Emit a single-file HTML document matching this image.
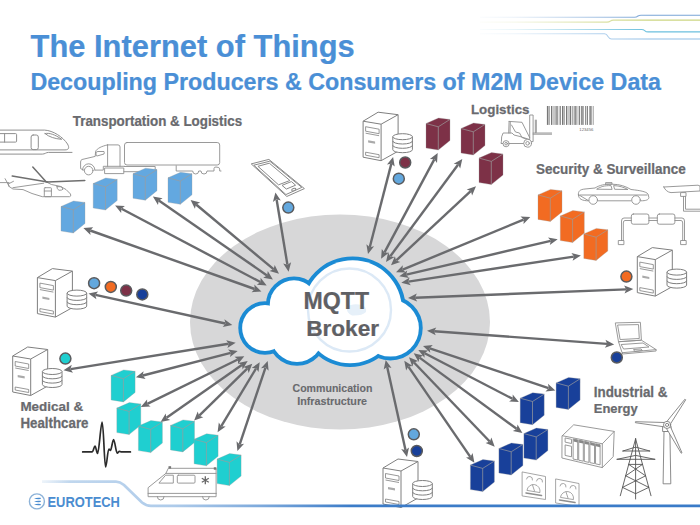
<!DOCTYPE html><html><head><meta charset="utf-8"><style>html,body{margin:0;padding:0;background:#fff;width:700px;height:525px;overflow:hidden}</style></head><body><svg width="700" height="525" viewBox="0 0 700 525" style="display:block">
<defs><linearGradient id="fadeL2" x1="0" x2="1" y1="0" y2="0"><stop offset="0" stop-color="#fff" stop-opacity="1"/><stop offset="0.25" stop-color="#fff" stop-opacity="0.85"/><stop offset="1" stop-color="#fff" stop-opacity="0"/></linearGradient><linearGradient id="fadeL" x1="0" x2="1" y1="0" y2="0"><stop offset="0" stop-color="#fff" stop-opacity="1"/><stop offset="1" stop-color="#fff" stop-opacity="0"/></linearGradient><linearGradient id="botline" gradientUnits="userSpaceOnUse" x1="42" x2="700" y1="0" y2="0"><stop offset="0" stop-color="#c5daef"/><stop offset="0.2" stop-color="#aecbea"/><stop offset="0.33" stop-color="#7eaadc"/><stop offset="0.47" stop-color="#3c7cc8"/><stop offset="1" stop-color="#3a7bc8"/></linearGradient></defs>
<rect width="700" height="525" fill="#fff"/>
<g fill="none" stroke-width="1.1" stroke-linejoin="round"><path d="M480,17.3 H634.5 Q636.5,17.3 638,16 Q639,15.3 641,15.3 H700" stroke="#7aa5d6"/><path d="M480,22.1 H607 Q609,22.1 610.5,21 Q611.5,20.1 613.5,20.1 H700" stroke="#cdd682"/><path d="M480,29.5 H641.5 Q643.5,29.5 645,30.8 Q646,31.9 648,31.9 H700" stroke="#6cc0de"/><path d="M480,33.8 H604.5 Q606.5,33.8 608,36.5 Q609.5,39 611.5,39 H700" stroke="#8fbde6"/></g>
<rect x="470" y="10" width="180" height="32" fill="url(#fadeL2)"/>
<text transform="translate(30.59,56.9) scale(0.9685,1)" font-family="Liberation Sans" font-weight="bold" font-size="31.88" fill="#4a8fd6" stroke="#4a8fd6" stroke-width="0.25">The Internet of Things</text>
<text transform="translate(30.39,90) scale(0.9670,1)" font-family="Liberation Sans" font-weight="bold" font-size="24.06" fill="#4a8fd6" stroke="#4a8fd6" stroke-width="0.25">Decoupling Producers &amp; Consumers of M2M Device Data</text>
<g fill="none" stroke="#8f8f8f" stroke-width="1.0" stroke-linejoin="round" stroke-linecap="round"><path d="M-2,130.1 H44.6 C53,130.5 63,137 67.5,144 C69.5,147.5 69,149.9 65,149.9 H-2"/><path d="M-2,154.1 H42.3 C45,154.1 46,152.4 48.5,152.4 H72"/><rect x="-3" y="133.6" width="19.6" height="8.5" rx="1"/><line x1="4.6" y1="133.6" x2="4.6" y2="142.1"/><rect x="31.1" y="135" width="7.2" height="14.6" rx="2"/><path d="M45.1,133.6 C49,132.5 55,134.5 61.7,139.3 C55,138.8 49,137 45.1,133.6Z"/></g><g fill="none" stroke="#8f8f8f" stroke-width="0.9" stroke-linejoin="round" stroke-linecap="round"><path d="M9,186.4 L12.9,189 L23,189.6 L32,193.5 L42.4,196.7 H69.5 Q71.5,196.5 70.5,194 L66,189.5 L60.4,186.4 L51.4,184.5 L47.6,182.6"/><path d="M12.9,187.7 L43.7,183.2"/><path d="M9,186.4 L7.7,182.8"/><rect x="44.3" y="187.7" width="7.1" height="9" rx="0.8"/><line x1="44.3" y1="191" x2="51.4" y2="191"/><path d="M57,186.6 L61.5,186.8 L63,189.2 Q62,190.4 59,190.3 Q56.5,189 57,186.6Z"/><line x1="-1" y1="182.6" x2="9" y2="182.6"/><line x1="5.1" y1="178.7" x2="9" y2="185.8"/><line x1="8.4" y1="183.9" x2="13.5" y2="181.3"/></g><g fill="none" stroke="#6f6f6f" stroke-width="1.5" stroke-linejoin="round" stroke-linecap="round"><line x1="12.2" y1="176.1" x2="47.6" y2="181.9"/><line x1="32.8" y1="167.1" x2="46.3" y2="181.9"/><line x1="47.6" y1="181.9" x2="84.8" y2="180.6"/></g><g fill="none" stroke="#8f8f8f" stroke-width="0.9" stroke-linejoin="round" stroke-linecap="round"><path d="M107.6,144.9 H118 Q120,144.9 120,147 V166.3"/><line x1="107.6" y1="144.9" x2="107.6" y2="166.3"/><path d="M107.6,144.9 C102,146 97,148.5 95.6,151.3 L95.2,156.4 L82,159.5 Q80.6,160 80.6,162 V168.6 L84,170.3"/><path d="M96,152.5 Q96,151.5 98,151.5 H104 Q104.5,152 104,154 L97,156 Q95.5,156 96,154Z"/><circle cx="88.7" cy="170.6" r="4.3"/><path d="M82.5,170 A6.2,6.2 0 0 1 94.9,170"/><path d="M94.9,170.1 H103.3 V166.3 H124.5"/><rect x="105" y="168" width="18.8" height="5.6"/><rect x="124.5" y="142.5" width="95.2" height="22.5" rx="2.5"/><path d="M124.5,166.5 H155.2 V171.7 H124"/><path d="M176.2,165.7 V171 H192.7 A3,3 0 0 0 198.7,171 H201 A3,3 0 0 0 207,171 H214 V168.5 Q214,167 216,167 Q219.7,167 219.7,169 V171 H221"/></g><g fill="none" stroke="#8a8a8a" stroke-width="1.0" stroke-linejoin="round" stroke-linecap="round"><path d="M251.6,163.8 L268.9,159.4 L304.4,188.6 L287.2,196.3 Z"/><path d="M254.2,165.1 L269.8,161.2 L301.8,187.4 L286.3,194.4 Z"/><path d="M258.3,166.2 L269.3,163.2 L289.9,180.5 L278.9,184.7 Z"/><path d="M282.4,185.2 L291.4,181.6 L295.6,185.2 L286.7,188.9 Z"/><ellipse cx="293.8" cy="189.6" rx="2.2" ry="1.1" transform="rotate(-20 293.8 189.6)"/></g><g fill="none" stroke="#8f8f8f" stroke-width="0.9" stroke-linejoin="round" stroke-linecap="round"><rect x="530.1" y="115" width="3" height="26.6" fill="#fff"/><path d="M535.3,120.1 V132.6 H536.3 V120.1"/><path d="M533.1,133 H551.6 M533.1,134.2 H551.6"/><path d="M509.1,121.4 L522,122.3 L529.7,137.7"/><path d="M509.1,121.4 L508.7,133 M510.3,122 L510,133"/><path d="M511.5,125 L515.5,132 L519.5,133 L522,137.5 L526,139"/><path d="M501.4,141 Q501,136.5 503.1,133 H512 L514,135 L520,136.5 L529.5,139.5 L530.1,141.6 V143.5 H501.4 Z"/><circle cx="506.1" cy="143.7" r="3.1" fill="#fff"/><circle cx="506.1" cy="143.7" r="1.3"/><circle cx="527.6" cy="143.3" r="3.9" fill="#fff"/><circle cx="527.6" cy="143.3" r="1.8"/></g><rect x="546.90" y="106" width="1.6" height="18.9" fill="#777"/><rect x="549.30" y="106" width="0.6" height="18.9" fill="#777"/><rect x="551.00" y="106" width="1.2" height="18.9" fill="#777"/><rect x="552.80" y="106" width="0.6" height="18.9" fill="#777"/><rect x="554.60" y="106" width="0.9" height="18.9" fill="#777"/><rect x="556.30" y="106" width="1.4" height="18.9" fill="#777"/><rect x="558.80" y="106" width="0.6" height="18.9" fill="#777"/><rect x="560.00" y="106" width="0.8" height="18.9" fill="#777"/><rect x="562.00" y="106" width="1.5" height="18.9" fill="#777"/><rect x="564.30" y="106" width="0.6" height="18.9" fill="#777"/><rect x="566.00" y="106" width="1.1" height="18.9" fill="#777"/><rect x="567.70" y="106" width="0.7" height="18.9" fill="#777"/><rect x="569.60" y="106" width="1.6" height="18.9" fill="#777"/><rect x="572.00" y="106" width="0.6" height="18.9" fill="#777"/><rect x="573.70" y="106" width="0.9" height="18.9" fill="#777"/><rect x="575.20" y="106" width="1.3" height="18.9" fill="#777"/><rect x="577.70" y="106" width="0.6" height="18.9" fill="#777"/><rect x="579.10" y="106" width="1.0" height="18.9" fill="#777"/><rect x="581.20" y="106" width="1.5" height="18.9" fill="#777"/><rect x="583.30" y="106" width="0.6" height="18.9" fill="#777"/><rect x="585.10" y="106" width="0.8" height="18.9" fill="#777"/><rect x="586.70" y="106" width="1.2" height="18.9" fill="#777"/><rect x="589.00" y="106" width="0.6" height="18.9" fill="#777"/><rect x="590.20" y="106" width="1.4" height="18.9" fill="#777"/><rect x="592.80" y="106" width="0.7" height="18.9" fill="#777"/><text x="593.3" y="131" font-family="Liberation Sans" font-size="4.2" fill="#666" text-anchor="end">123456</text><g fill="none" stroke="#8f8f8f" stroke-width="0.9" stroke-linejoin="round" stroke-linecap="round"><path d="M578.4,195 C578,191 580,189.5 585,189 L595,188 C600,185 604,184.2 612,184.2 C620,184.2 626,186.5 631,189.5 C640,190.5 646,191.5 648,194 L648.9,197.5 C648.5,200 646,200.8 641,200.8 M631,200.8 H598.2 M588.3,200.8 C582,200.8 578.6,199 578.4,195Z"/><circle cx="593.2" cy="200" r="4.3"/><circle cx="636" cy="200" r="4.3"/><path d="M597,189 C601,186.5 604,185.6 611,185.6 L612,189 Z"/><path d="M614,185.6 C620,185.8 624,187.5 628,189.5 L615,189.3Z"/><line x1="580" y1="195" x2="647" y2="195"/><rect x="606" y="182.6" width="6" height="1.5"/></g><g fill="none" stroke="#8f8f8f" stroke-width="0.9" stroke-linejoin="round" stroke-linecap="round"><path d="M663.8,187 L698,185.2 L700,186 V191 L671,192.6 Q666,192 663.8,187Z"/><rect x="681" y="192.6" width="5" height="3.8"/><path d="M683.5,196.4 V211.2 H701"/><path d="M685.5,196.4 V209.2 H701"/></g><g fill="none" stroke="#8f8f8f" stroke-width="0.9" stroke-linejoin="round" stroke-linecap="round"><rect x="631.3" y="214" width="17.6" height="10.2" rx="2"/><rect x="657.3" y="214" width="17.6" height="10.2" rx="2"/><path d="M648.9,218 H657.3 M648.9,220.5 H657.3"/><path d="M631.3,218 H624 Q621.5,218 621.5,221 V240.5"/><path d="M631.3,220.5 H625 Q623.3,220.5 623.3,223 V240.5"/><rect x="618.7" y="240.5" width="5.2" height="4.1"/><path d="M674.9,218 H682 Q684.5,218 684.5,221 V240.5"/><path d="M674.9,220.5 H681 Q682.7,220.5 682.7,223 V240.5"/><rect x="681" y="240.5" width="5.2" height="4.1"/></g><g fill="none" stroke="#8f8f8f" stroke-width="0.9" stroke-linejoin="round" stroke-linecap="round"><path d="M615.7,322.9 L640.4,322.3 L641.4,340.2 L618.9,341.7 Z"/><path d="M618,325 L638.5,324.6 L639.3,338.5 L620.5,339.5 Z"/><path d="M618.9,341.7 L641.4,340.2 L656.1,349.6 L622.5,352.7 Z"/><path d="M622.5,352.7 L622.5,354 L656.1,351 L656.1,349.6"/><path d="M621.5,344.5 L643,343 L649,347 L624,349Z"/><path d="M634,349.5 L641,349 L642.5,350.5 L635,351.2Z"/></g><g fill="none" stroke="#8f8f8f" stroke-width="0.9" stroke-linejoin="round" stroke-linecap="round"><path d="M562.3,435.7 L573.7,424.8 L614.2,431.4 L613.2,456.7 L602.3,467.6 L562.3,458.1 Z"/><path d="M562.3,435.7 L602.3,443.8 L614.2,431.4"/><line x1="602.3" y1="443.8" x2="602.3" y2="467.6"/><path d="M573.5,439.0 L577.7,439.9 V460.0 L573.5,459.1Z"/><rect x="573.5" y="439.0" width="4.2" height="2.5" fill="#888" stroke="none" transform="skewY(12)" transform-origin="573.5 439.0"/><path d="M579.1,440.2 L583.3,441.1 V461.2 L579.1,460.3Z"/><rect x="579.1" y="440.2" width="4.2" height="2.5" fill="#888" stroke="none" transform="skewY(12)" transform-origin="579.1 440.2"/><path d="M584.7,441.4 L588.9,442.3 V462.4 L584.7,461.5Z"/><rect x="584.7" y="441.4" width="4.2" height="2.5" fill="#888" stroke="none" transform="skewY(12)" transform-origin="584.7 441.4"/><path d="M590.3,442.6 L594.5,443.5 V463.6 L590.3,462.7Z"/><rect x="590.3" y="442.6" width="4.2" height="2.5" fill="#888" stroke="none" transform="skewY(12)" transform-origin="590.3 442.6"/><path d="M595.9,443.8 L600.1,444.7 V464.8 L595.9,463.9Z"/><rect x="595.9" y="443.8" width="4.2" height="2.5" fill="#888" stroke="none" transform="skewY(12)" transform-origin="595.9 443.8"/><path d="M565.5,438 L571.5,439.3 V443.5 L565.5,442.2Z"/><path d="M565.5,445 L571.5,446.3 V456.8 L565.5,455.5Z"/></g><g fill="none" stroke="#555" stroke-width="0.9" stroke-linejoin="round" stroke-linecap="round"><path d="M635.6,438.8 L620.3,495.7 M635.6,438.8 L651,495.7 M635.6,438.8 V499"/><path d="M622.9,451 H649.7 M622.9,451 L635.6,447.1 L649.7,451"/><path d="M617.1,459.3 H654.8 M617.1,459.3 L635.6,455.4 L654.8,459.3"/><path d="M628.7,464.4 H642.5"/><path d="M628.7,464.4 L645.6,475.8 M642.5,464.4 L625.7,475.8"/><path d="M625.7,475.8 L648.8,487.4 M645.6,475.8 L622.5,487.4"/><path d="M622.5,487.4 L635.6,493.7 L648.8,487.4"/></g><g fill="none" stroke="#777" stroke-width="0.85" stroke-linejoin="round" stroke-linecap="round"><path d="M664.4,431.2 L669.9,431.2 L670.8,483.8 L663.5,483.8 Z" fill="#fff"/><path d="M663,426 L671,426 L671,431.5 L663,431.5Z" fill="#fff"/><path d="M670.6,423.7 L685.7,399.8 L684.9,399.2 L667.1,421.2" fill="#fff"/><path d="M664.3,422.5 L635.4,421.7 L635.4,422.7 L663.9,426.8" fill="#fff"/><path d="M666.5,428.6 L681.2,453.2 L682.0,452.8 L670.4,426.6" fill="#fff"/><circle cx="667.1" cy="424.9" r="3.6" fill="#fff"/><circle cx="667.1" cy="424.9" r="1.6"/></g><g fill="none" stroke="#8f8f8f" stroke-width="0.8" stroke-linejoin="round" stroke-linecap="round"><path d="M522.5,472 L545.5,476.5 L545.5,499.5 L522.5,496 Z"/><path d="M526.5,479 a3,3 0 0 1 6,1"/><path d="M536.5,481 a3,3 0 0 1 6,1"/><path d="M527.0,490 a6.5,6.5 0 0 1 13,2.2 Z"/><line x1="532.5" y1="485" x2="534.5" y2="491"/><path d="M526.0,493 L541.5,495.5" stroke-width="1.6"/><path d="M556,479 L579,483.5 L579,506.5 L556,503 Z"/><path d="M560,486 a3,3 0 0 1 6,1"/><path d="M570,488 a3,3 0 0 1 6,1"/><path d="M560.5,497 a6.5,6.5 0 0 1 13,2.2 Z"/><line x1="566" y1="492" x2="568" y2="498"/><path d="M559.5,500 L575,502.5" stroke-width="1.6"/></g><g fill="none" stroke="#8f8f8f" stroke-width="0.9" stroke-linejoin="round" stroke-linecap="round"><path d="M148.1,496.3 V487.7 L165.9,473.4 L168.3,468.3 H216.1 V496.3 Z" fill="#fff"/><line x1="165.9" y1="473.4" x2="216.1" y2="473.4"/><line x1="148.1" y1="493.4" x2="216.3" y2="493.4"/><path d="M166,475.2 H173.3 V483.1 H159.3 Z"/><rect x="177.3" y="475.2" width="17.7" height="7.9" rx="1"/><path d="M157.3,496.6 A3.4,3.4 0 0 0 164.1,496.6"/><path d="M202.5,496.6 A3.4,3.4 0 0 0 209.3,496.6"/></g><rect x="168.5" y="466.2" width="2.6" height="2.4" fill="#777" stroke="none"/><rect x="213.8" y="467.3" width="2.6" height="2.4" fill="#777" stroke="none"/><g stroke="#666" stroke-width="1.3"><line x1="205.3" y1="476.3" x2="205.3" y2="484.3"/><line x1="201.8" y1="478.3" x2="208.8" y2="482.3"/><line x1="201.8" y1="482.3" x2="208.8" y2="478.3"/></g><g fill="none" stroke="#2b2b2b" stroke-width="1.7" stroke-linejoin="round" stroke-linecap="round"><path d="M82.7,451.9 H92 C93.5,451.9 94,446 95,446 C96,446 96.5,453.5 97.6,453.5 C99,453.5 100.8,422 102.1,422 C103.6,422 104.3,467 105.6,467 C106.8,467 107.6,449 108.9,449 C109.6,449 109.8,450.5 110.4,450.5 C111.5,450.5 112.5,439.5 113.6,439.5 C114.8,439.5 116,453.2 117.2,453.2 C118,453.2 118.6,451.3 119.4,451.3 C120,451.3 120.3,451.9 121,451.9 H130.4"/></g>
<ellipse cx="340" cy="322" rx="150" ry="107.5" fill="#d7d7d8"/>
<text transform="translate(72.77,126.4) scale(0.9421,1)" font-family="Liberation Sans" font-weight="bold" font-size="14.20" fill="#696a6e" stroke="#696a6e" stroke-width="0.25">Transportation &amp; Logistics</text>
<text transform="translate(470.93,113.5) scale(0.9904,1)" font-family="Liberation Sans" font-weight="bold" font-size="13.48" fill="#696a6e" stroke="#696a6e" stroke-width="0.25">Logistics</text>
<text transform="translate(536.00,173.5) scale(0.9304,1)" font-family="Liberation Sans" font-weight="bold" font-size="14.49" fill="#696a6e" stroke="#696a6e" stroke-width="0.25">Security &amp; Surveillance</text>
<text transform="translate(20.43,411.1) scale(1.0187,1)" font-family="Liberation Sans" font-weight="bold" font-size="13.19" fill="#696a6e" stroke="#696a6e" stroke-width="0.25">Medical &amp;</text>
<text transform="translate(20.43,427.5) scale(0.9675,1)" font-family="Liberation Sans" font-weight="bold" font-size="13.77" fill="#696a6e" stroke="#696a6e" stroke-width="0.25">Healthcare</text>
<text transform="translate(593.73,396.6) scale(0.9654,1)" font-family="Liberation Sans" font-weight="bold" font-size="13.91" fill="#696a6e" stroke="#696a6e" stroke-width="0.25">Industrial &amp;</text>
<text transform="translate(593.75,413) scale(0.9551,1)" font-family="Liberation Sans" font-weight="bold" font-size="13.62" fill="#696a6e" stroke="#696a6e" stroke-width="0.25">Energy</text>
<text transform="translate(292.48,391.9) scale(0.9621,1)" font-family="Liberation Sans" font-weight="bold" font-size="11.01" fill="#696a6e" stroke="#696a6e" stroke-width="0.1">Communication</text>
<text transform="translate(297.20,405) scale(1.0447,1)" font-family="Liberation Sans" font-weight="bold" font-size="10.29" fill="#696a6e" stroke="#696a6e" stroke-width="0.1">Infrastructure</text>
<g>
<line x1="90.2" y1="230.5" x2="254.6" y2="289.0" stroke="#6a6b6e" stroke-width="2.4"/><polygon points="261.4,291.4 251.6,292.2 254.8,289.1 254.3,284.6" fill="#6a6b6e"/><polygon points="83.4,228.1 90.5,234.9 90.0,230.4 93.2,227.3" fill="#6a6b6e"/>
<line x1="121.5" y1="208.8" x2="260.3" y2="282.0" stroke="#6a6b6e" stroke-width="2.4"/><polygon points="266.7,285.4 256.9,284.7 260.5,282.1 260.6,277.7" fill="#6a6b6e"/><polygon points="115.1,205.4 121.2,213.1 121.3,208.7 124.9,206.1" fill="#6a6b6e"/>
<line x1="158.8" y1="200.6" x2="267.0" y2="275.4" stroke="#6a6b6e" stroke-width="2.4"/><polygon points="272.9,279.5 263.2,277.7 267.1,275.5 267.8,271.1" fill="#6a6b6e"/><polygon points="152.9,196.5 158.0,204.9 158.7,200.5 162.6,198.3" fill="#6a6b6e"/>
<line x1="196.1" y1="204.5" x2="273.5" y2="269.2" stroke="#6a6b6e" stroke-width="2.4"/><polygon points="279.0,273.8 269.5,271.1 273.6,269.3 274.7,265.0" fill="#6a6b6e"/><polygon points="190.6,199.9 194.9,208.7 196.0,204.4 200.1,202.6" fill="#6a6b6e"/>
<line x1="276.6" y1="199.5" x2="287.4" y2="264.6" stroke="#6a6b6e" stroke-width="2.4"/><polygon points="288.6,271.7 283.2,263.5 287.5,264.8 291.1,262.2" fill="#6a6b6e"/><polygon points="275.4,192.4 272.9,201.9 276.5,199.3 280.8,200.6" fill="#6a6b6e"/>
<line x1="391.3" y1="163.9" x2="369.8" y2="247.0" stroke="#6a6b6e" stroke-width="2.4"/><polygon points="368.0,254.0 366.4,244.3 369.8,247.2 374.1,246.3" fill="#6a6b6e"/><polygon points="393.1,156.9 387.0,164.6 391.3,163.7 394.7,166.6" fill="#6a6b6e"/>
<line x1="434.3" y1="159.4" x2="384.5" y2="252.4" stroke="#6a6b6e" stroke-width="2.4"/><polygon points="381.1,258.7 381.8,248.9 384.4,252.5 388.9,252.7" fill="#6a6b6e"/><polygon points="437.7,153.1 429.9,159.1 434.4,159.3 437.0,162.9" fill="#6a6b6e"/>
<line x1="458.0" y1="164.7" x2="390.3" y2="256.2" stroke="#6a6b6e" stroke-width="2.4"/><polygon points="386.0,262.0 388.1,252.4 390.2,256.4 394.6,257.1" fill="#6a6b6e"/><polygon points="462.3,158.9 453.7,163.8 458.1,164.5 460.2,168.5" fill="#6a6b6e"/>
<line x1="470.7" y1="191.2" x2="396.3" y2="260.4" stroke="#6a6b6e" stroke-width="2.4"/><polygon points="391.0,265.3 394.9,256.2 396.1,260.5 400.3,262.1" fill="#6a6b6e"/><polygon points="476.0,186.3 466.7,189.5 470.9,191.1 472.1,195.4" fill="#6a6b6e"/>
<line x1="523.6" y1="219.6" x2="402.7" y2="269.6" stroke="#6a6b6e" stroke-width="2.4"/><polygon points="396.0,272.3 402.8,265.2 402.5,269.6 405.8,272.6" fill="#6a6b6e"/><polygon points="530.3,216.9 520.5,216.6 523.8,219.6 523.5,224.0" fill="#6a6b6e"/>
<line x1="550.7" y1="240.8" x2="406.3" y2="274.7" stroke="#6a6b6e" stroke-width="2.4"/><polygon points="399.3,276.3 407.2,270.4 406.1,274.7 409.0,278.1" fill="#6a6b6e"/><polygon points="557.7,239.2 548.0,237.4 550.9,240.8 549.8,245.1" fill="#6a6b6e"/>
<line x1="573.8" y1="256.6" x2="408.4" y2="281.6" stroke="#6a6b6e" stroke-width="2.4"/><polygon points="401.3,282.7 409.6,277.4 408.2,281.7 410.8,285.3" fill="#6a6b6e"/><polygon points="580.9,255.5 571.4,252.9 574.0,256.5 572.6,260.8" fill="#6a6b6e"/>
<line x1="626.1" y1="289.4" x2="415.2" y2="297.7" stroke="#6a6b6e" stroke-width="2.4"/><polygon points="408.0,298.0 416.8,293.6 415.0,297.7 417.2,301.6" fill="#6a6b6e"/><polygon points="633.3,289.1 624.1,285.5 626.3,289.4 624.5,293.5" fill="#6a6b6e"/>
<line x1="607.0" y1="343.9" x2="434.2" y2="331.2" stroke="#6a6b6e" stroke-width="2.4"/><polygon points="427.0,330.7 436.3,327.4 434.0,331.2 435.7,335.3" fill="#6a6b6e"/><polygon points="614.2,344.4 605.5,339.8 607.2,343.9 604.9,347.7" fill="#6a6b6e"/>
<line x1="548.5" y1="388.2" x2="429.8" y2="348.3" stroke="#6a6b6e" stroke-width="2.4"/><polygon points="423.0,346.0 432.8,345.1 429.6,348.2 430.3,352.7" fill="#6a6b6e"/><polygon points="555.3,390.5 548.0,383.8 548.7,388.3 545.5,391.4" fill="#6a6b6e"/>
<line x1="512.5" y1="398.8" x2="424.7" y2="353.3" stroke="#6a6b6e" stroke-width="2.4"/><polygon points="418.3,350.0 428.1,350.6 424.5,353.2 424.5,357.7" fill="#6a6b6e"/><polygon points="518.9,402.1 512.7,394.4 512.7,398.9 509.1,401.5" fill="#6a6b6e"/>
<line x1="516.6" y1="428.8" x2="419.5" y2="357.6" stroke="#6a6b6e" stroke-width="2.4"/><polygon points="413.7,353.3 423.3,355.4 419.3,357.4 418.6,361.9" fill="#6a6b6e"/><polygon points="522.4,433.1 517.5,424.5 516.8,429.0 512.8,431.0" fill="#6a6b6e"/>
<line x1="489.7" y1="441.5" x2="414.0" y2="362.5" stroke="#6a6b6e" stroke-width="2.4"/><polygon points="409.0,357.3 418.1,361.0 413.8,362.4 412.3,366.6" fill="#6a6b6e"/><polygon points="494.7,446.7 491.4,437.4 489.9,441.6 485.6,443.0" fill="#6a6b6e"/>
<line x1="470.3" y1="456.9" x2="408.4" y2="366.6" stroke="#6a6b6e" stroke-width="2.4"/><polygon points="404.3,360.7 412.7,365.9 408.3,366.5 406.1,370.4" fill="#6a6b6e"/><polygon points="474.4,462.8 472.6,453.1 470.4,457.0 466.0,457.6" fill="#6a6b6e"/>
<line x1="405.5" y1="450.0" x2="387.2" y2="367.0" stroke="#6a6b6e" stroke-width="2.4"/><polygon points="385.7,360.0 391.5,367.9 387.2,366.8 383.7,369.6" fill="#6a6b6e"/><polygon points="407.0,457.0 409.0,447.4 405.5,450.2 401.2,449.1" fill="#6a6b6e"/>
<line x1="95.5" y1="294.9" x2="225.3" y2="323.5" stroke="#6a6b6e" stroke-width="2.4"/><polygon points="232.3,325.0 222.7,327.0 225.5,323.5 224.4,319.2" fill="#6a6b6e"/><polygon points="88.5,293.4 96.4,299.2 95.3,294.9 98.1,291.4" fill="#6a6b6e"/>
<line x1="70.6" y1="369.1" x2="228.6" y2="343.8" stroke="#6a6b6e" stroke-width="2.4"/><polygon points="235.7,342.7 227.4,348.1 228.8,343.8 226.2,340.2" fill="#6a6b6e"/><polygon points="63.5,370.2 73.0,372.7 70.4,369.1 71.8,364.8" fill="#6a6b6e"/>
<line x1="142.9" y1="375.5" x2="230.7" y2="352.8" stroke="#6a6b6e" stroke-width="2.4"/><polygon points="237.7,351.0 230.0,357.1 230.9,352.8 228.0,349.4" fill="#6a6b6e"/><polygon points="135.9,377.3 145.6,378.9 142.7,375.5 143.6,371.2" fill="#6a6b6e"/>
<line x1="147.3" y1="403.8" x2="237.8" y2="359.5" stroke="#6a6b6e" stroke-width="2.4"/><polygon points="244.3,356.3 238.0,363.9 238.0,359.4 234.5,356.7" fill="#6a6b6e"/><polygon points="140.8,407.0 150.6,406.6 147.1,403.9 147.1,399.4" fill="#6a6b6e"/>
<line x1="166.5" y1="417.8" x2="241.8" y2="365.1" stroke="#6a6b6e" stroke-width="2.4"/><polygon points="247.7,361.0 242.6,369.4 242.0,365.0 238.0,362.9" fill="#6a6b6e"/><polygon points="160.6,421.9 170.3,420.0 166.3,417.9 165.7,413.5" fill="#6a6b6e"/>
<line x1="199.2" y1="415.6" x2="247.2" y2="368.7" stroke="#6a6b6e" stroke-width="2.4"/><polygon points="252.3,363.7 248.7,372.9 247.3,368.6 243.1,367.1" fill="#6a6b6e"/><polygon points="194.1,420.6 203.3,417.2 199.1,415.7 197.7,411.4" fill="#6a6b6e"/>
<line x1="221.3" y1="426.1" x2="256.0" y2="368.5" stroke="#6a6b6e" stroke-width="2.4"/><polygon points="259.7,362.3 258.5,372.1 256.1,368.3 251.6,368.0" fill="#6a6b6e"/><polygon points="217.6,432.3 225.7,426.6 221.2,426.3 218.8,422.5" fill="#6a6b6e"/>
<line x1="239.7" y1="444.3" x2="265.4" y2="367.8" stroke="#6a6b6e" stroke-width="2.4"/><polygon points="267.7,361.0 268.6,370.8 265.5,367.6 261.0,368.3" fill="#6a6b6e"/><polygon points="237.4,451.1 244.1,443.8 239.6,444.5 236.5,441.3" fill="#6a6b6e"/>
</g>
<g>
<circle cx="265" cy="328" r="22.9" fill="none" stroke="#1b8bd4" stroke-width="7.6"/>
<circle cx="294" cy="304.5" r="24.2" fill="none" stroke="#1b8bd4" stroke-width="7.6"/>
<circle cx="297" cy="336" r="25.9" fill="none" stroke="#1b8bd4" stroke-width="7.6"/>
<circle cx="352.7" cy="309.5" r="49.2" fill="none" stroke="#1b8bd4" stroke-width="7.6"/>
<circle cx="350" cy="317" r="46.2" fill="none" stroke="#1b8bd4" stroke-width="7.6"/>
<circle cx="390.4" cy="328.1" r="28.499999999999996" fill="none" stroke="#1b8bd4" stroke-width="7.6"/>
<circle cx="265" cy="328" r="22.9" fill="#fff"/>
<circle cx="294" cy="304.5" r="24.2" fill="#fff"/>
<circle cx="297" cy="336" r="25.9" fill="#fff"/>
<circle cx="352.7" cy="309.5" r="49.2" fill="#fff"/>
<circle cx="350" cy="317" r="46.2" fill="#fff"/>
<circle cx="390.4" cy="328.1" r="28.499999999999996" fill="#fff"/>
</g>
<circle cx="349.5" cy="310" r="41.5" fill="none" stroke="#dce9f6" stroke-width="2.4"/><path d="M347,307 Q352,303 362,305 Q367,307 366,312 Q362,316 352,315.5 Q346,313 347,307Z" fill="#e6f0f9"/>
<text transform="translate(303.60,308.8) scale(0.9553,1)" font-family="Liberation Sans" font-weight="bold" font-size="24.20" fill="#5f6064" stroke="#5f6064" stroke-width="0.25">MQTT</text>
<text transform="translate(306.13,335.8) scale(1.0078,1)" font-family="Liberation Sans" font-weight="bold" font-size="22.46" fill="#5f6064" stroke="#5f6064" stroke-width="0.25">Broker</text>
<polygon points="61.0,206.5 73.5,201.0 85.0,202.4 85.0,223.5 73.3,233.0 61.0,231.0" fill="#63a8e0"/><polyline points="61.0,206.5 73.3,209.8 85.0,202.4" fill="none" stroke="#9c9c9c" stroke-width="0.7"/><line x1="73.3" y1="209.8" x2="73.3" y2="233.0" stroke="#9c9c9c" stroke-width="0.7"/><polygon points="61.0,206.5 73.5,201.0 85.0,202.4 85.0,223.5 73.3,233.0 61.0,231.0" fill="none" stroke="#9c9c9c" stroke-width="0.5" opacity="0.6"/>
<polygon points="93.2,183.5 105.7,178.0 117.2,179.4 117.2,200.5 105.5,210.0 93.2,208.0" fill="#63a8e0"/><polyline points="93.2,183.5 105.5,186.8 117.2,179.4" fill="none" stroke="#9c9c9c" stroke-width="0.7"/><line x1="105.5" y1="186.8" x2="105.5" y2="210.0" stroke="#9c9c9c" stroke-width="0.7"/><polygon points="93.2,183.5 105.7,178.0 117.2,179.4 117.2,200.5 105.5,210.0 93.2,208.0" fill="none" stroke="#9c9c9c" stroke-width="0.5" opacity="0.6"/>
<polygon points="133.0,173.7 145.5,168.2 157.0,169.6 157.0,190.7 145.3,200.2 133.0,198.2" fill="#63a8e0"/><polyline points="133.0,173.7 145.3,177.0 157.0,169.6" fill="none" stroke="#9c9c9c" stroke-width="0.7"/><line x1="145.3" y1="177.0" x2="145.3" y2="200.2" stroke="#9c9c9c" stroke-width="0.7"/><polygon points="133.0,173.7 145.5,168.2 157.0,169.6 157.0,190.7 145.3,200.2 133.0,198.2" fill="none" stroke="#9c9c9c" stroke-width="0.5" opacity="0.6"/>
<polygon points="168.0,177.8 180.5,172.3 192.0,173.7 192.0,194.8 180.3,204.3 168.0,202.3" fill="#63a8e0"/><polyline points="168.0,177.8 180.3,181.1 192.0,173.7" fill="none" stroke="#9c9c9c" stroke-width="0.7"/><line x1="180.3" y1="181.1" x2="180.3" y2="204.3" stroke="#9c9c9c" stroke-width="0.7"/><polygon points="168.0,177.8 180.5,172.3 192.0,173.7 192.0,194.8 180.3,204.3 168.0,202.3" fill="none" stroke="#9c9c9c" stroke-width="0.5" opacity="0.6"/>
<polygon points="426.0,123.5 438.5,118.0 450.0,119.4 450.0,140.5 438.3,150.0 426.0,148.0" fill="#7d3147"/><polyline points="426.0,123.5 438.3,126.8 450.0,119.4" fill="none" stroke="#9c9c9c" stroke-width="0.7"/><line x1="438.3" y1="126.8" x2="438.3" y2="150.0" stroke="#9c9c9c" stroke-width="0.7"/><polygon points="426.0,123.5 438.5,118.0 450.0,119.4 450.0,140.5 438.3,150.0 426.0,148.0" fill="none" stroke="#9c9c9c" stroke-width="0.5" opacity="0.6"/>
<polygon points="461.0,128.5 473.5,123.0 485.0,124.4 485.0,145.5 473.3,155.0 461.0,153.0" fill="#7d3147"/><polyline points="461.0,128.5 473.3,131.8 485.0,124.4" fill="none" stroke="#9c9c9c" stroke-width="0.7"/><line x1="473.3" y1="131.8" x2="473.3" y2="155.0" stroke="#9c9c9c" stroke-width="0.7"/><polygon points="461.0,128.5 473.5,123.0 485.0,124.4 485.0,145.5 473.3,155.0 461.0,153.0" fill="none" stroke="#9c9c9c" stroke-width="0.5" opacity="0.6"/>
<polygon points="479.0,158.1 491.5,152.6 503.0,154.0 503.0,175.1 491.3,184.6 479.0,182.6" fill="#7d3147"/><polyline points="479.0,158.1 491.3,161.4 503.0,154.0" fill="none" stroke="#9c9c9c" stroke-width="0.7"/><line x1="491.3" y1="161.4" x2="491.3" y2="184.6" stroke="#9c9c9c" stroke-width="0.7"/><polygon points="479.0,158.1 491.5,152.6 503.0,154.0 503.0,175.1 491.3,184.6 479.0,182.6" fill="none" stroke="#9c9c9c" stroke-width="0.5" opacity="0.6"/>
<polygon points="538.0,194.9 550.5,189.4 562.0,190.8 562.0,211.9 550.3,221.4 538.0,219.4" fill="#f26b22"/><polyline points="538.0,194.9 550.3,198.2 562.0,190.8" fill="none" stroke="#9c9c9c" stroke-width="0.7"/><line x1="550.3" y1="198.2" x2="550.3" y2="221.4" stroke="#9c9c9c" stroke-width="0.7"/><polygon points="538.0,194.9 550.5,189.4 562.0,190.8 562.0,211.9 550.3,221.4 538.0,219.4" fill="none" stroke="#9c9c9c" stroke-width="0.5" opacity="0.6"/>
<polygon points="560.3,216.0 572.8,210.5 584.3,211.9 584.3,233.0 572.6,242.5 560.3,240.5" fill="#f26b22"/><polyline points="560.3,216.0 572.6,219.3 584.3,211.9" fill="none" stroke="#9c9c9c" stroke-width="0.7"/><line x1="572.6" y1="219.3" x2="572.6" y2="242.5" stroke="#9c9c9c" stroke-width="0.7"/><polygon points="560.3,216.0 572.8,210.5 584.3,211.9 584.3,233.0 572.6,242.5 560.3,240.5" fill="none" stroke="#9c9c9c" stroke-width="0.5" opacity="0.6"/>
<polygon points="583.8,233.9 596.3,228.4 607.8,229.8 607.8,250.9 596.1,260.4 583.8,258.4" fill="#f26b22"/><polyline points="583.8,233.9 596.1,237.2 607.8,229.8" fill="none" stroke="#9c9c9c" stroke-width="0.7"/><line x1="596.1" y1="237.2" x2="596.1" y2="260.4" stroke="#9c9c9c" stroke-width="0.7"/><polygon points="583.8,233.9 596.3,228.4 607.8,229.8 607.8,250.9 596.1,260.4 583.8,258.4" fill="none" stroke="#9c9c9c" stroke-width="0.5" opacity="0.6"/>
<polygon points="111.1,375.4 123.6,369.9 135.1,371.3 135.1,392.4 123.4,401.9 111.1,399.9" fill="#1fcfd0"/><polyline points="111.1,375.4 123.4,378.7 135.1,371.3" fill="none" stroke="#9c9c9c" stroke-width="0.7"/><line x1="123.4" y1="378.7" x2="123.4" y2="401.9" stroke="#9c9c9c" stroke-width="0.7"/><polygon points="111.1,375.4 123.6,369.9 135.1,371.3 135.1,392.4 123.4,401.9 111.1,399.9" fill="none" stroke="#9c9c9c" stroke-width="0.5" opacity="0.6"/>
<polygon points="116.8,408.1 129.3,402.6 140.8,404.0 140.8,425.1 129.1,434.6 116.8,432.6" fill="#1fcfd0"/><polyline points="116.8,408.1 129.1,411.4 140.8,404.0" fill="none" stroke="#9c9c9c" stroke-width="0.7"/><line x1="129.1" y1="411.4" x2="129.1" y2="434.6" stroke="#9c9c9c" stroke-width="0.7"/><polygon points="116.8,408.1 129.3,402.6 140.8,404.0 140.8,425.1 129.1,434.6 116.8,432.6" fill="none" stroke="#9c9c9c" stroke-width="0.5" opacity="0.6"/>
<polygon points="138.4,426.1 150.9,420.6 162.4,422.0 162.4,443.1 150.7,452.6 138.4,450.6" fill="#1fcfd0"/><polyline points="138.4,426.1 150.7,429.4 162.4,422.0" fill="none" stroke="#9c9c9c" stroke-width="0.7"/><line x1="150.7" y1="429.4" x2="150.7" y2="452.6" stroke="#9c9c9c" stroke-width="0.7"/><polygon points="138.4,426.1 150.9,420.6 162.4,422.0 162.4,443.1 150.7,452.6 138.4,450.6" fill="none" stroke="#9c9c9c" stroke-width="0.5" opacity="0.6"/>
<polygon points="170.5,425.4 183.0,419.9 194.5,421.3 194.5,442.4 182.8,451.9 170.5,449.9" fill="#1fcfd0"/><polyline points="170.5,425.4 182.8,428.7 194.5,421.3" fill="none" stroke="#9c9c9c" stroke-width="0.7"/><line x1="182.8" y1="428.7" x2="182.8" y2="451.9" stroke="#9c9c9c" stroke-width="0.7"/><polygon points="170.5,425.4 183.0,419.9 194.5,421.3 194.5,442.4 182.8,451.9 170.5,449.9" fill="none" stroke="#9c9c9c" stroke-width="0.5" opacity="0.6"/>
<polygon points="194.1,439.3 206.6,433.8 218.1,435.2 218.1,456.3 206.4,465.8 194.1,463.8" fill="#1fcfd0"/><polyline points="194.1,439.3 206.4,442.6 218.1,435.2" fill="none" stroke="#9c9c9c" stroke-width="0.7"/><line x1="206.4" y1="442.6" x2="206.4" y2="465.8" stroke="#9c9c9c" stroke-width="0.7"/><polygon points="194.1,439.3 206.6,433.8 218.1,435.2 218.1,456.3 206.4,465.8 194.1,463.8" fill="none" stroke="#9c9c9c" stroke-width="0.5" opacity="0.6"/>
<polygon points="217.1,459.1 229.6,453.6 241.1,455.0 241.1,476.1 229.4,485.6 217.1,483.6" fill="#1fcfd0"/><polyline points="217.1,459.1 229.4,462.4 241.1,455.0" fill="none" stroke="#9c9c9c" stroke-width="0.7"/><line x1="229.4" y1="462.4" x2="229.4" y2="485.6" stroke="#9c9c9c" stroke-width="0.7"/><polygon points="217.1,459.1 229.6,453.6 241.1,455.0 241.1,476.1 229.4,485.6 217.1,483.6" fill="none" stroke="#9c9c9c" stroke-width="0.5" opacity="0.6"/>
<polygon points="556.1,382.9 568.6,377.4 580.1,378.8 580.1,399.9 568.4,409.4 556.1,407.4" fill="#18409a"/><polyline points="556.1,382.9 568.4,386.2 580.1,378.8" fill="none" stroke="#9c9c9c" stroke-width="0.7"/><line x1="568.4" y1="386.2" x2="568.4" y2="409.4" stroke="#9c9c9c" stroke-width="0.7"/><polygon points="556.1,382.9 568.6,377.4 580.1,378.8 580.1,399.9 568.4,409.4 556.1,407.4" fill="none" stroke="#9c9c9c" stroke-width="0.5" opacity="0.6"/>
<polygon points="520.2,398.2 532.7,392.7 544.2,394.1 544.2,415.2 532.5,424.7 520.2,422.7" fill="#18409a"/><polyline points="520.2,398.2 532.5,401.5 544.2,394.1" fill="none" stroke="#9c9c9c" stroke-width="0.7"/><line x1="532.5" y1="401.5" x2="532.5" y2="424.7" stroke="#9c9c9c" stroke-width="0.7"/><polygon points="520.2,398.2 532.7,392.7 544.2,394.1 544.2,415.2 532.5,424.7 520.2,422.7" fill="none" stroke="#9c9c9c" stroke-width="0.5" opacity="0.6"/>
<polygon points="523.9,433.6 536.4,428.1 547.9,429.5 547.9,450.6 536.2,460.1 523.9,458.1" fill="#18409a"/><polyline points="523.9,433.6 536.2,436.9 547.9,429.5" fill="none" stroke="#9c9c9c" stroke-width="0.7"/><line x1="536.2" y1="436.9" x2="536.2" y2="460.1" stroke="#9c9c9c" stroke-width="0.7"/><polygon points="523.9,433.6 536.4,428.1 547.9,429.5 547.9,450.6 536.2,460.1 523.9,458.1" fill="none" stroke="#9c9c9c" stroke-width="0.5" opacity="0.6"/>
<polygon points="498.9,448.5 511.4,443.0 522.9,444.4 522.9,465.5 511.2,475.0 498.9,473.0" fill="#18409a"/><polyline points="498.9,448.5 511.2,451.8 522.9,444.4" fill="none" stroke="#9c9c9c" stroke-width="0.7"/><line x1="511.2" y1="451.8" x2="511.2" y2="475.0" stroke="#9c9c9c" stroke-width="0.7"/><polygon points="498.9,448.5 511.4,443.0 522.9,444.4 522.9,465.5 511.2,475.0 498.9,473.0" fill="none" stroke="#9c9c9c" stroke-width="0.5" opacity="0.6"/>
<polygon points="470.4,465.1 482.9,459.6 494.4,461.0 494.4,482.1 482.7,491.6 470.4,489.6" fill="#18409a"/><polyline points="470.4,465.1 482.7,468.4 494.4,461.0" fill="none" stroke="#9c9c9c" stroke-width="0.7"/><line x1="482.7" y1="468.4" x2="482.7" y2="491.6" stroke="#9c9c9c" stroke-width="0.7"/><polygon points="470.4,465.1 482.9,459.6 494.4,461.0 494.4,482.1 482.7,491.6 470.4,489.6" fill="none" stroke="#9c9c9c" stroke-width="0.5" opacity="0.6"/>
<polygon points="363.1,121.2 378.1,112.2 398.1,114.7 398.1,151.2 381.1,160.7 363.1,157.2" fill="#fff" stroke="#7f7f7f" stroke-width="1"/><polyline points="363.1,121.2 381.1,124.2 398.1,114.7" fill="none" stroke="#7f7f7f" stroke-width="1"/><line x1="381.1" y1="124.2" x2="381.1" y2="160.7" stroke="#7f7f7f" stroke-width="1"/><polygon points="365.6,126.7 379.1,129.2 379.1,133.7 365.6,131.2" fill="none" stroke="#7f7f7f" stroke-width="0.8"/><line x1="365.6" y1="133.2" x2="379.1" y2="135.7" stroke="#7f7f7f" stroke-width="0.8"/><polygon points="368.1,140.2 375.1,141.5 375.1,143.7 368.1,142.4" fill="#aaa"/><polygon points="365.6,152.2 379.1,154.7 379.1,157.7 365.6,155.2" fill="none" stroke="#7f7f7f" stroke-width="0.8"/><path d="M392.8,136.7 v13 a9.8,3.0 0 0 0 19.6,0 v-13" fill="#fff" stroke="#7f7f7f" stroke-width="1"/><ellipse cx="402.6" cy="136.7" rx="9.8" ry="3.0" fill="#fff" stroke="#7f7f7f" stroke-width="1"/><path d="M392.8,141.0 a9.8,3.0 0 0 0 19.6,0" fill="none" stroke="#7f7f7f" stroke-width="1"/><path d="M392.8,145.29999999999998 a9.8,3.0 0 0 0 19.6,0" fill="none" stroke="#7f7f7f" stroke-width="1"/>
<polygon points="37.4,277.6 52.4,268.6 72.4,271.1 72.4,307.6 55.4,317.1 37.4,313.6" fill="#fff" stroke="#7f7f7f" stroke-width="1"/><polyline points="37.4,277.6 55.4,280.6 72.4,271.1" fill="none" stroke="#7f7f7f" stroke-width="1"/><line x1="55.4" y1="280.6" x2="55.4" y2="317.1" stroke="#7f7f7f" stroke-width="1"/><polygon points="39.9,283.1 53.4,285.6 53.4,290.1 39.9,287.6" fill="none" stroke="#7f7f7f" stroke-width="0.8"/><line x1="39.9" y1="289.6" x2="53.4" y2="292.1" stroke="#7f7f7f" stroke-width="0.8"/><polygon points="42.4,296.6 49.4,297.9 49.4,300.1 42.4,298.8" fill="#aaa"/><polygon points="39.9,308.6 53.4,311.1 53.4,314.1 39.9,311.6" fill="none" stroke="#7f7f7f" stroke-width="0.8"/><path d="M67.10000000000001,293.1 v13 a9.8,3.0 0 0 0 19.6,0 v-13" fill="#fff" stroke="#7f7f7f" stroke-width="1"/><ellipse cx="76.9" cy="293.1" rx="9.8" ry="3.0" fill="#fff" stroke="#7f7f7f" stroke-width="1"/><path d="M67.10000000000001,297.40000000000003 a9.8,3.0 0 0 0 19.6,0" fill="none" stroke="#7f7f7f" stroke-width="1"/><path d="M67.10000000000001,301.70000000000005 a9.8,3.0 0 0 0 19.6,0" fill="none" stroke="#7f7f7f" stroke-width="1"/>
<polygon points="12.7,356.0 27.7,347.0 47.7,349.5 47.7,386.0 30.7,395.5 12.7,392.0" fill="#fff" stroke="#7f7f7f" stroke-width="1"/><polyline points="12.7,356.0 30.7,359.0 47.7,349.5" fill="none" stroke="#7f7f7f" stroke-width="1"/><line x1="30.7" y1="359" x2="30.7" y2="395.5" stroke="#7f7f7f" stroke-width="1"/><polygon points="15.2,361.5 28.7,364.0 28.7,368.5 15.2,366.0" fill="none" stroke="#7f7f7f" stroke-width="0.8"/><line x1="15.2" y1="368" x2="28.7" y2="370.5" stroke="#7f7f7f" stroke-width="0.8"/><polygon points="17.7,375.0 24.7,376.3 24.7,378.5 17.7,377.2" fill="#aaa"/><polygon points="15.2,387.0 28.7,389.5 28.7,392.5 15.2,390.0" fill="none" stroke="#7f7f7f" stroke-width="0.8"/><path d="M42.400000000000006,371.5 v13 a9.8,3.0 0 0 0 19.6,0 v-13" fill="#fff" stroke="#7f7f7f" stroke-width="1"/><ellipse cx="52.2" cy="371.5" rx="9.8" ry="3.0" fill="#fff" stroke="#7f7f7f" stroke-width="1"/><path d="M42.400000000000006,375.8 a9.8,3.0 0 0 0 19.6,0" fill="none" stroke="#7f7f7f" stroke-width="1"/><path d="M42.400000000000006,380.1 a9.8,3.0 0 0 0 19.6,0" fill="none" stroke="#7f7f7f" stroke-width="1"/>
<polygon points="637.3,256.6 652.3,247.6 672.3,250.1 672.3,286.6 655.3,296.1 637.3,292.6" fill="#fff" stroke="#7f7f7f" stroke-width="1"/><polyline points="637.3,256.6 655.3,259.6 672.3,250.1" fill="none" stroke="#7f7f7f" stroke-width="1"/><line x1="655.3" y1="259.6" x2="655.3" y2="296.1" stroke="#7f7f7f" stroke-width="1"/><polygon points="639.8,262.1 653.3,264.6 653.3,269.1 639.8,266.6" fill="none" stroke="#7f7f7f" stroke-width="0.8"/><line x1="639.8" y1="268.6" x2="653.3" y2="271.1" stroke="#7f7f7f" stroke-width="0.8"/><polygon points="642.3,275.6 649.3,276.9 649.3,279.1 642.3,277.8" fill="#aaa"/><polygon points="639.8,287.6 653.3,290.1 653.3,293.1 639.8,290.6" fill="none" stroke="#7f7f7f" stroke-width="0.8"/><path d="M667.0,272.1 v13 a9.8,3.0 0 0 0 19.6,0 v-13" fill="#fff" stroke="#7f7f7f" stroke-width="1"/><ellipse cx="676.8" cy="272.1" rx="9.8" ry="3.0" fill="#fff" stroke="#7f7f7f" stroke-width="1"/><path d="M667.0,276.40000000000003 a9.8,3.0 0 0 0 19.6,0" fill="none" stroke="#7f7f7f" stroke-width="1"/><path d="M667.0,280.70000000000005 a9.8,3.0 0 0 0 19.6,0" fill="none" stroke="#7f7f7f" stroke-width="1"/>
<polygon points="383.0,468.0 398.0,459.0 418.0,461.5 418.0,498.0 401.0,507.5 383.0,504.0" fill="#fff" stroke="#7f7f7f" stroke-width="1"/><polyline points="383.0,468.0 401.0,471.0 418.0,461.5" fill="none" stroke="#7f7f7f" stroke-width="1"/><line x1="401" y1="471" x2="401" y2="507.5" stroke="#7f7f7f" stroke-width="1"/><polygon points="385.5,473.5 399.0,476.0 399.0,480.5 385.5,478.0" fill="none" stroke="#7f7f7f" stroke-width="0.8"/><line x1="385.5" y1="480" x2="399" y2="482.5" stroke="#7f7f7f" stroke-width="0.8"/><polygon points="388.0,487.0 395.0,488.3 395.0,490.5 388.0,489.2" fill="#aaa"/><polygon points="385.5,499.0 399.0,501.5 399.0,504.5 385.5,502.0" fill="none" stroke="#7f7f7f" stroke-width="0.8"/><path d="M412.7,483.5 v13 a9.8,3.0 0 0 0 19.6,0 v-13" fill="#fff" stroke="#7f7f7f" stroke-width="1"/><ellipse cx="422.5" cy="483.5" rx="9.8" ry="3.0" fill="#fff" stroke="#7f7f7f" stroke-width="1"/><path d="M412.7,487.8 a9.8,3.0 0 0 0 19.6,0" fill="none" stroke="#7f7f7f" stroke-width="1"/><path d="M412.7,492.1 a9.8,3.0 0 0 0 19.6,0" fill="none" stroke="#7f7f7f" stroke-width="1"/>
<circle cx="405.2" cy="162.5" r="5.5" fill="#7d3147" stroke="#5a5b5e" stroke-width="1.5"/>
<circle cx="398.8" cy="178.7" r="5.5" fill="#63a8de" stroke="#5a5b5e" stroke-width="1.5"/>
<circle cx="94.1" cy="283.2" r="5.5" fill="#63a8de" stroke="#5a5b5e" stroke-width="1.5"/>
<circle cx="110.8" cy="286.9" r="5.5" fill="#f26b22" stroke="#5a5b5e" stroke-width="1.5"/>
<circle cx="126.2" cy="290.6" r="5.5" fill="#7d3147" stroke="#5a5b5e" stroke-width="1.5"/>
<circle cx="142.3" cy="294.4" r="5.5" fill="#18409a" stroke="#5a5b5e" stroke-width="1.5"/>
<circle cx="65.4" cy="358.6" r="5.5" fill="#1fcfd0" stroke="#5a5b5e" stroke-width="1.5"/>
<circle cx="626.4" cy="276.6" r="5.5" fill="#f26b22" stroke="#5a5b5e" stroke-width="1.5"/>
<circle cx="288.3" cy="207.6" r="5.5" fill="#63a8de" stroke="#5a5b5e" stroke-width="1.5"/>
<circle cx="616.8" cy="357.5" r="5.5" fill="#18409a" stroke="#5a5b5e" stroke-width="1.5"/>
<circle cx="413.8" cy="434.3" r="5.5" fill="#63a8de" stroke="#5a5b5e" stroke-width="1.5"/>
<circle cx="416.8" cy="451" r="5.5" fill="#18409a" stroke="#5a5b5e" stroke-width="1.5"/>
<path d="M42,481.7 H116 Q120,481.7 124,485 L142,502.5 Q146,505.8 151,505.8 H700" fill="none" stroke="url(#botline)" stroke-width="2.8"/>
<rect x="30" y="470" width="40" height="20" fill="url(#fadeL)"/>
<circle cx="36.9" cy="501.4" r="7.5" fill="none" stroke="#8cb2d8" stroke-width="1.4"/>
<path d="M34,498.4 Q37,497.29999999999995 40.6,497.79999999999995 Q41,498.4 40.6,499.0 Q37,499.5 34,498.4 Z" fill="#4a8cd0"/>
<path d="M34,501.4 Q37,500.29999999999995 40.6,500.79999999999995 Q41,501.4 40.6,502.0 Q37,502.5 34,501.4 Z" fill="#4a8cd0"/>
<path d="M34,504.6 Q37,503.5 40.6,504.0 Q41,504.6 40.6,505.20000000000005 Q37,505.70000000000005 34,504.6 Z" fill="#4a8cd0"/>
<text transform="translate(47.46,506.9) scale(0.8655,1)" font-family="Liberation Sans" font-weight="bold" font-size="14.93" fill="#4a8cd0" stroke="#4a8cd0" stroke-width="0">EUROTECH</text>
</svg></body></html>
